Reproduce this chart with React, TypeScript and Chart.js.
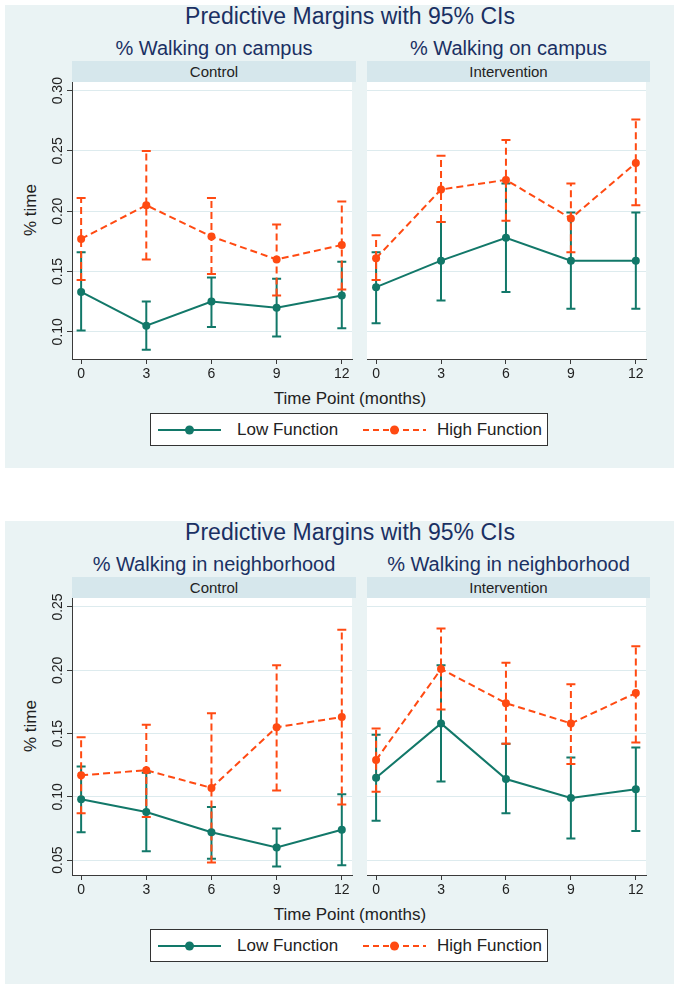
import React, { useEffect, useRef } from "react";
import { Chart, registerables } from "chart.js";

Chart.register(...registerables);

// ---------------- data ----------------
const months = [0, 3, 6, 9, 12];
const xTickLabels = ["0", "3", "6", "9", "12"];

const campusYTicks = [0.1, 0.15, 0.2, 0.25, 0.3];
const campusYTickLabels = ["0.10", "0.15", "0.20", "0.25", "0.30"];
const neighYTicks = [0.05, 0.1, 0.15, 0.2, 0.25];
const neighYTickLabels = ["0.05", "0.10", "0.15", "0.20", "0.25"];

// Campus – Control
const campusControlLow = [0.133, 0.105, 0.125, 0.12, 0.13];
const campusControlLowLo = [0.101, 0.085, 0.104, 0.096, 0.103];
const campusControlLowHi = [0.166, 0.125, 0.145, 0.144, 0.158];
const campusControlHigh = [0.177, 0.205, 0.179, 0.16, 0.172];
const campusControlHighLo = [0.143, 0.16, 0.148, 0.13, 0.135];
const campusControlHighHi = [0.211, 0.25, 0.211, 0.189, 0.208];

// Campus – Intervention
const campusInterLow = [0.137, 0.159, 0.178, 0.159, 0.159];
const campusInterLowLo = [0.107, 0.126, 0.133, 0.119, 0.119];
const campusInterLowHi = [0.166, 0.191, 0.223, 0.199, 0.199];
const campusInterHigh = [0.161, 0.218, 0.226, 0.194, 0.24];
const campusInterHighLo = [0.143, 0.191, 0.192, 0.166, 0.205];
const campusInterHighHi = [0.18, 0.246, 0.259, 0.223, 0.276];

// Neighborhood – Control
const neighControlLow = [0.098, 0.088, 0.072, 0.06, 0.074];
const neighControlLowLo = [0.072, 0.057, 0.051, 0.045, 0.046];
const neighControlLowHi = [0.124, 0.119, 0.092, 0.075, 0.102];
const neighControlHigh = [0.117, 0.121, 0.107, 0.155, 0.163];
const neighControlHighLo = [0.087, 0.084, 0.048, 0.105, 0.094];
const neighControlHighHi = [0.147, 0.157, 0.166, 0.204, 0.232];

// Neighborhood – Intervention
const neighInterLow = [0.115, 0.158, 0.114, 0.099, 0.106];
const neighInterLowLo = [0.081, 0.112, 0.087, 0.067, 0.073];
const neighInterLowHi = [0.149, 0.204, 0.142, 0.131, 0.139];
const neighInterHigh = [0.129, 0.201, 0.174, 0.158, 0.182];
const neighInterHighLo = [0.104, 0.169, 0.142, 0.126, 0.143];
const neighInterHighHi = [0.154, 0.233, 0.206, 0.189, 0.219];

const seriesNames = ["Low Function", "High Function"];
const mainTitle = "Predictive Margins with 95% CIs";
const groupNames = ["Control", "Intervention"];
const xTitle = "Time Point (months)";
const yTitle = "% time";

// ---------------- styles ----------------
const GREEN = "#127869";
const ORANGE = "#FF4A12";
const NAVY = "#1A3063";
const PANEL_BG = "#EAF3F4";
const STRIP_BG = "#D6E7EC";
const GRID = "#DDEBEE";
const AXIS = "#3a3a3a";
const FONT = "'Liberation Sans', Arial, Helvetica, sans-serif";

const X_MIN = -0.42;
const X_MAX = 12.47;

const errorBarPlugin = {
  id: "errorBars",
  beforeDatasetsDraw(chart: any) {
    const ctx = chart.ctx;
    const xs = chart.scales.x;
    const ys = chart.scales.y;
    const dsList = chart.data.datasets;
    for (let d = dsList.length - 1; d >= 0; d--) {
      const ds = dsList[d];
      const lo: number[] = ds.errLo;
      const hi: number[] = ds.errHi;
      if (!lo || !hi) continue;
      ctx.save();
      ctx.strokeStyle = ds.borderColor;
      ctx.lineWidth = 2;
      for (let i = 0; i < months.length; i++) {
        const x = xs.getPixelForValue(months[i]);
        const y1 = ys.getPixelForValue(lo[i]);
        const y2 = ys.getPixelForValue(hi[i]);
        ctx.setLineDash(ds.dashedErr ? [7, 4] : []);
        ctx.beginPath();
        ctx.moveTo(x, y1);
        ctx.lineTo(x, y2);
        ctx.stroke();
        ctx.setLineDash([]);
        ctx.beginPath();
        ctx.moveTo(x - 4.5, y1);
        ctx.lineTo(x + 4.5, y1);
        ctx.moveTo(x - 4.5, y2);
        ctx.lineTo(x + 4.5, y2);
        ctx.stroke();
      }
      ctx.restore();
    }
  },
};

const plotBgPlugin = {
  id: "plotBg",
  beforeDraw(chart: any) {
    const { ctx, chartArea } = chart;
    ctx.save();
    ctx.fillStyle = "#ffffff";
    ctx.fillRect(chartArea.left, chartArea.top, chartArea.right - chartArea.left, chartArea.bottom - chartArea.top);
    ctx.restore();
  },
};

const yLabelPlugin = {
  id: "yLabels",
  afterDraw(chart: any, _args: any, opts: any) {
    if (!opts || !opts.show) return;
    const { ctx, chartArea } = chart;
    const ys = chart.scales.y;
    ctx.save();
    ctx.fillStyle = "#222";
    ctx.font = `14px ${FONT}`;
    ctx.textAlign = "center";
    ctx.textBaseline = "alphabetic";
    const ticks: number[] = opts.ticks;
    const labels: string[] = opts.labels;
    ticks.forEach((v, i) => {
      const y = ys.getPixelForValue(v);
      ctx.save();
      ctx.translate(chartArea.left - 10, y);
      ctx.rotate(-Math.PI / 2);
      ctx.fillText(labels[i], 0, 0);
      ctx.restore();
    });
    ctx.restore();
  },
};

type SubProps = {
  left: number;
  top: number;
  width: number;
  showYAxis: boolean;
  yMin: number;
  yMax: number;
  yTicks: number[];
  yTickLabels: string[];
  low: number[];
  lowLo: number[];
  lowHi: number[];
  high: number[];
  highLo: number[];
  highHi: number[];
};

const CANVAS_H = 312; // chartArea top at 5, bottom at 282
const Y_AXIS_W = 72;

function SubChart(p: SubProps) {
  const ref = useRef<HTMLCanvasElement | null>(null);
  useEffect(() => {
    if (!ref.current) return;
    const chart = new Chart(ref.current, {
      type: "line",
      data: {
        datasets: [
          {
            label: seriesNames[1],
            data: months.map((m, i) => ({ x: m, y: p.high[i] })),
            borderColor: ORANGE,
            backgroundColor: ORANGE,
            borderWidth: 2,
            borderDash: [7, 4],
            pointRadius: 4,
            pointBorderWidth: 0,
            pointBackgroundColor: ORANGE,
            tension: 0,
            errLo: p.highLo,
            errHi: p.highHi,
            dashedErr: true,
          } as any,
          {
            label: seriesNames[0],
            data: months.map((m, i) => ({ x: m, y: p.low[i] })),
            borderColor: GREEN,
            backgroundColor: GREEN,
            borderWidth: 2,
            pointRadius: 4,
            pointBorderWidth: 0,
            pointBackgroundColor: GREEN,
            tension: 0,
            errLo: p.lowLo,
            errHi: p.lowHi,
            dashedErr: false,
          } as any,
        ],
      },
      options: {
        animation: false,
        responsive: false,
        events: [],
        layout: { padding: { top: 5, left: 0, right: 0, bottom: 0 } },
        plugins: {
          legend: { display: false },
          tooltip: { enabled: false },
          yLabels: { show: p.showYAxis, ticks: p.yTicks, labels: p.yTickLabels },
        } as any,
        scales: {
          x: {
            type: "linear",
            min: X_MIN,
            max: X_MAX,
            afterBuildTicks: (s: any) => {
              s.ticks = months.map((v) => ({ value: v }));
            },
            afterFit: (s: any) => {
              s.height = 30;
            },
            grid: {
              display: true,
              drawOnChartArea: false,
              drawTicks: true,
              tickLength: 5,
              tickColor: AXIS,
              color: AXIS,
            },
            border: { display: true, color: AXIS, width: 1 },
            ticks: {
              color: "#222",
              font: { family: FONT, size: 14 },
              padding: 2,
              maxRotation: 0,
              autoSkip: false,
              callback: (_v: any, i: number) => xTickLabels[i],
            },
          },
          y: {
            type: "linear",
            min: p.yMin,
            max: p.yMax,
            afterBuildTicks: (s: any) => {
              s.ticks = p.yTicks.map((v) => ({ value: v }));
            },
            afterFit: (s: any) => {
              s.width = Y_AXIS_W;
            },
            grid: {
              display: true,
              color: GRID,
              lineWidth: 1,
              drawTicks: p.showYAxis,
              tickLength: 5,
              tickColor: AXIS,
            },
            border: { display: p.showYAxis, color: AXIS, width: 1 },
            ticks: { display: false },
          },
        },
      },
      plugins: [plotBgPlugin, errorBarPlugin, yLabelPlugin],
    });
    return () => chart.destroy();
  }, []);
  return (
    <canvas
      ref={ref}
      width={p.width}
      height={CANVAS_H}
      style={{ position: "absolute", left: p.left, top: p.top, width: p.width, height: CANVAS_H }}
    />
  );
}

type Series6 = { low: number[]; lowLo: number[]; lowHi: number[]; high: number[]; highLo: number[]; highHi: number[] };

type PanelProps = {
  T: number;
  subtitle: string;
  yMin: number;
  yMax: number;
  yTicks: number[];
  yTickLabels: string[];
  left: Series6;
  right: Series6;
};

function centeredText(text: string, cx: number, cy: number, size: number, color: string, w = 700) {
  return (
    <div
      style={{
        position: "absolute",
        left: cx - w / 2,
        top: cy - size / 2,
        width: w,
        height: size,
        lineHeight: `${size}px`,
        fontSize: size,
        fontFamily: FONT,
        color,
        textAlign: "center",
        whiteSpace: "nowrap",
      }}
    >
      {text}
    </div>
  );
}

function LegendSymbol({ color, dashed }: { color: string; dashed: boolean }) {
  return (
    <svg width={64} height={12} style={{ position: "absolute", top: 10 }}>
      <line x1={0} y1={6} x2={63} y2={6} stroke={color} strokeWidth={2} strokeDasharray={dashed ? "6 4" : undefined} />
      <circle cx={31.5} cy={6} r={4.5} fill={color} />
    </svg>
  );
}

function Strip({ left, top, width, text }: { left: number; top: number; width: number; text: string }) {
  return (
    <div
      style={{
        position: "absolute",
        left,
        top,
        width,
        height: 21,
        background: STRIP_BG,
        fontFamily: FONT,
        fontSize: 15,
        lineHeight: "21px",
        textAlign: "center",
        color: "#222",
      }}
    >
      {text}
    </div>
  );
}

function Panel(p: PanelProps) {
  const T = p.T;
  const L_PLOT_LEFT = 72;
  const L_PLOT_RIGHT = 356;
  const R_PLOT_LEFT = 367;
  const R_PLOT_RIGHT = 650;
  return (
    <>
      <div style={{ position: "absolute", left: 5, top: T, width: 669, height: 463, background: PANEL_BG }} />
      {centeredText(mainTitle, 350, T + 11, 23, NAVY)}
      {centeredText(p.subtitle, (L_PLOT_LEFT + L_PLOT_RIGHT) / 2, T + 43, 20, NAVY, 300)}
      {centeredText(p.subtitle, (R_PLOT_LEFT + R_PLOT_RIGHT) / 2, T + 43, 20, NAVY, 300)}
      <Strip left={L_PLOT_LEFT} top={T + 56} width={L_PLOT_RIGHT - L_PLOT_LEFT} text={groupNames[0]} />
      <Strip left={R_PLOT_LEFT} top={T + 56} width={R_PLOT_RIGHT - R_PLOT_LEFT} text={groupNames[1]} />
      <div
        style={{
          position: "absolute",
          left: 31 - 100,
          top: T + 205 - 10,
          width: 200,
          height: 20,
          lineHeight: "20px",
          fontFamily: FONT,
          fontSize: 17,
          color: "#222",
          textAlign: "center",
          transform: "rotate(-90deg)",
        }}
      >
        {yTitle}
      </div>
      <SubChart
        left={L_PLOT_LEFT - Y_AXIS_W}
        top={T + 72}
        width={L_PLOT_RIGHT - L_PLOT_LEFT + Y_AXIS_W}
        showYAxis={true}
        yMin={p.yMin}
        yMax={p.yMax}
        yTicks={p.yTicks}
        yTickLabels={p.yTickLabels}
        {...p.left}
      />
      <SubChart
        left={R_PLOT_LEFT - Y_AXIS_W}
        top={T + 72}
        width={R_PLOT_RIGHT - R_PLOT_LEFT + Y_AXIS_W}
        showYAxis={false}
        yMin={p.yMin}
        yMax={p.yMax}
        yTicks={p.yTicks}
        yTickLabels={p.yTickLabels}
        {...p.right}
      />
      {centeredText(xTitle, 350, T + 393, 17, "#222")}
      <div
        style={{
          position: "absolute",
          left: 150,
          top: T + 408,
          width: 398,
          height: 33,
          boxSizing: "border-box",
          border: "1px solid #333",
          background: "#fff",
          fontFamily: FONT,
          fontSize: 17,
          color: "#222",
        }}
      >
        <div style={{ position: "absolute", left: 7, top: 0 }}>
          <LegendSymbol color={GREEN} dashed={false} />
        </div>
        <div style={{ position: "absolute", left: 86, top: 0, lineHeight: "31px", whiteSpace: "nowrap" }}>{seriesNames[0]}</div>
        <div style={{ position: "absolute", left: 212, top: 0 }}>
          <LegendSymbol color={ORANGE} dashed={true} />
        </div>
        <div style={{ position: "absolute", left: 286, top: 0, lineHeight: "31px", whiteSpace: "nowrap" }}>{seriesNames[1]}</div>
      </div>
    </>
  );
}

export default function App() {
  return (
    <div style={{ position: "absolute", left: 0, top: 0, width: 680, height: 990, background: "#fff", overflow: "hidden" }}>
      <Panel
        T={5}
        subtitle="% Walking on campus"
        yMin={0.0774}
        yMax={0.3072}
        yTicks={campusYTicks}
        yTickLabels={campusYTickLabels}
        left={{
          low: campusControlLow,
          lowLo: campusControlLowLo,
          lowHi: campusControlLowHi,
          high: campusControlHigh,
          highLo: campusControlHighLo,
          highHi: campusControlHighHi,
        }}
        right={{
          low: campusInterLow,
          lowLo: campusInterLowLo,
          lowHi: campusInterLowHi,
          high: campusInterHigh,
          highLo: campusInterHighLo,
          highHi: campusInterHighHi,
        }}
      />
      <Panel
        T={521}
        subtitle="% Walking in neighborhood"
        yMin={0.0382}
        yMax={0.2571}
        yTicks={neighYTicks}
        yTickLabels={neighYTickLabels}
        left={{
          low: neighControlLow,
          lowLo: neighControlLowLo,
          lowHi: neighControlLowHi,
          high: neighControlHigh,
          highLo: neighControlHighLo,
          highHi: neighControlHighHi,
        }}
        right={{
          low: neighInterLow,
          lowLo: neighInterLowLo,
          lowHi: neighInterLowHi,
          high: neighInterHigh,
          highLo: neighInterHighLo,
          highHi: neighInterHighHi,
        }}
      />
    </div>
  );
}
